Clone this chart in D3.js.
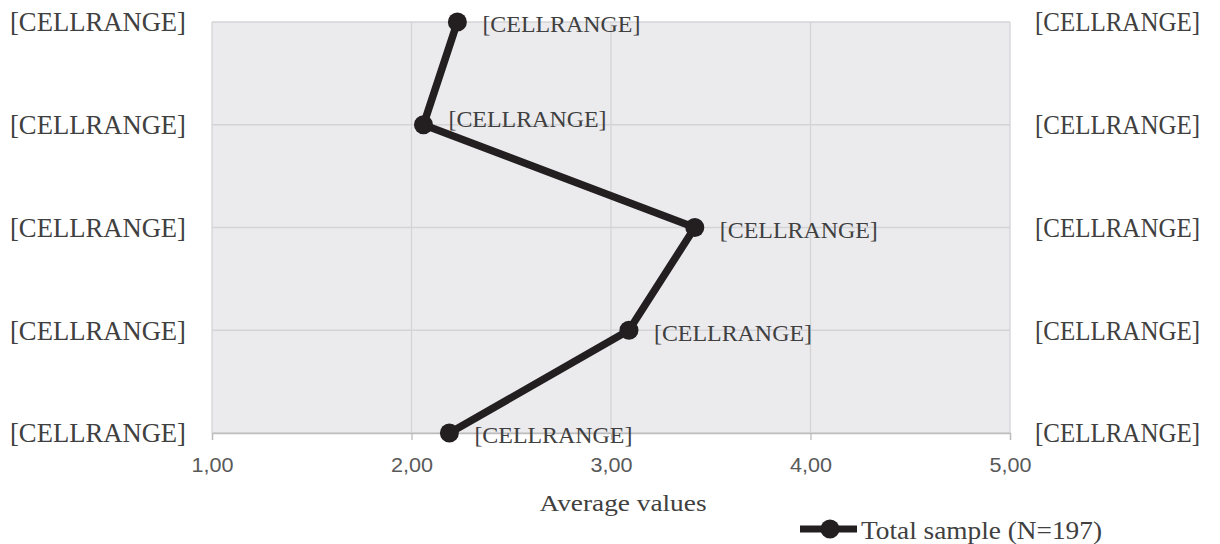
<!DOCTYPE html>
<html><head><meta charset="utf-8">
<script src="https://cdn.jsdelivr.net/npm/d3@7"></script>
<style>body{margin:0;background:#fff}svg{display:block}</style>
</head><body>
<svg id="c" width="1220" height="544"></svg>
<script>
const categories = ["c1","c2","c3","c4","c5"];
const leftLabels = ["[CELLRANGE]","[CELLRANGE]","[CELLRANGE]","[CELLRANGE]","[CELLRANGE]"];
const rightLabels = ["[CELLRANGE]","[CELLRANGE]","[CELLRANGE]","[CELLRANGE]","[CELLRANGE]"];
const dataLabels = ["[CELLRANGE]","[CELLRANGE]","[CELLRANGE]","[CELLRANGE]","[CELLRANGE]"];
const values = [2.23, 2.06, 3.42, 3.09, 2.19];
const xTicks = [1,2,3,4,5];
const seriesName = "Total sample (N=197)";
const axisTitle = "Average values";

const svg = d3.select("#c");
const L = 212, R = 1010, T = 22, B = 433;
const x = d3.scaleLinear().domain([1,5]).range([L,R]);
const y = d3.scalePoint().domain(categories).range([T,B]);
const serif = "'Liberation Serif','Times New Roman',serif";

svg.append("rect").attr("x",L).attr("y",T).attr("width",R-L).attr("height",B-T).attr("fill","#ebebee");

// vertical grid
svg.append("g").selectAll("line").data(xTicks).join("line")
  .attr("x1",d=>x(d)).attr("x2",d=>x(d)).attr("y1",T).attr("y2",B)
  .attr("stroke","#d4d4d7").attr("stroke-width",1.3);
// horizontal grid
svg.append("g").selectAll("line").data(categories).join("line")
  .attr("x1",L).attr("x2",R).attr("y1",d=>y(d)).attr("y2",d=>y(d))
  .attr("stroke","#d4d4d7").attr("stroke-width",1.3);

// bottom axis
const ax = d3.axisBottom(x).tickValues(xTicks).tickSize(7).tickPadding(18)
  .tickFormat(d=>d3.format(".2f")(d).replace(".",","));
const g = svg.append("g").attr("transform",`translate(0,${B})`).call(ax);
g.select(".domain").attr("stroke","#bdbdbd").attr("stroke-width",1.3);
g.selectAll(".tick line").attr("stroke","#bdbdbd").attr("stroke-width",1.3);
g.selectAll(".tick text").attr("fill","#595959").attr("font-family","'Liberation Sans',Arial,sans-serif").attr("font-size",20)
  .attr("textLength",42).attr("lengthAdjust","spacingAndGlyphs");

// category labels
svg.append("g").selectAll("text").data(categories).join("text")
  .attr("x",186).attr("y",d=>y(d)).attr("dy","0.35em").attr("text-anchor","end")
  .attr("font-family",serif).attr("font-size",26.5).attr("fill","#404040")
  .attr("textLength",176).attr("lengthAdjust","spacingAndGlyphs")
  .text((d,i)=>leftLabels[i]);
svg.append("g").selectAll("text").data(categories).join("text")
  .attr("x",1035).attr("y",d=>y(d)).attr("dy","0.35em").attr("text-anchor","start")
  .attr("font-family",serif).attr("font-size",26.5).attr("fill","#404040")
  .attr("textLength",165).attr("lengthAdjust","spacingAndGlyphs")
  .text((d,i)=>rightLabels[i]);

// line
const pts = categories.map((c,i)=>({c,v:values[i],lab:dataLabels[i]}));
svg.append("path").datum(pts)
  .attr("d",d3.line().x(d=>x(d.v)).y(d=>y(d.c)))
  .attr("fill","none").attr("stroke","#231f20").attr("stroke-width",7.5).attr("stroke-linejoin","round");
svg.append("g").selectAll("circle").data(pts).join("circle")
  .attr("cx",d=>x(d.v)).attr("cy",d=>y(d.c)).attr("r",9.5).attr("fill","#231f20");
svg.append("g").selectAll("text").data(pts).join("text")
  .attr("x",d=>x(d.v)+25).attr("y",(d,i)=>y(d.c)+(i===1?-6:2)).attr("dy","0.35em")
  .attr("font-family",serif).attr("font-size",24).attr("fill","#404040")
  .attr("textLength",158).attr("lengthAdjust","spacingAndGlyphs")
  .text(d=>d.lab);

// axis title
svg.append("text").attr("x",623).attr("y",503).attr("dy","0.35em").attr("text-anchor","middle")
  .attr("font-family",serif).attr("font-size",24).attr("fill","#404040")
  .attr("textLength",167).attr("lengthAdjust","spacingAndGlyphs").text(axisTitle);

// legend
const lg = svg.append("g");
lg.append("line").attr("x1",800).attr("x2",857).attr("y1",529).attr("y2",529).attr("stroke","#231f20").attr("stroke-width",7);
lg.append("circle").attr("cx",830).attr("cy",529).attr("r",9.5).attr("fill","#231f20");
lg.append("text").attr("x",861).attr("y",530).attr("dy","0.35em").attr("font-family",serif).attr("font-size",25).attr("fill","#404040")
  .attr("textLength",241).attr("lengthAdjust","spacingAndGlyphs").text(seriesName);
</script>
</body></html>
